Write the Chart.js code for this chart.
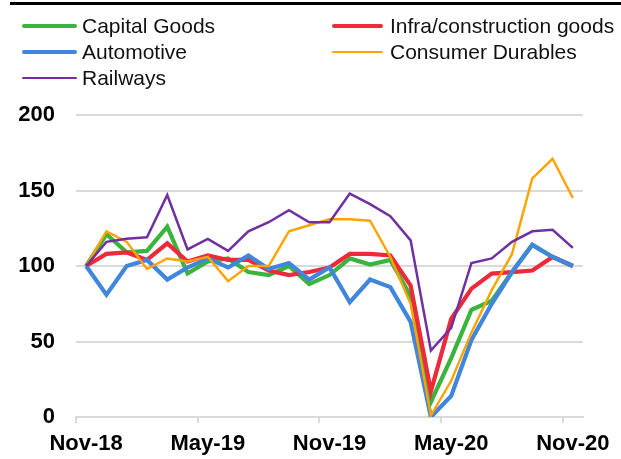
<!DOCTYPE html>
<html>
<head>
<meta charset="utf-8">
<script src="https://cdn.jsdelivr.net/npm/chart.js@4.4.1/dist/chart.umd.min.js"></script>
<style>
  html, body { margin: 0; padding: 0; background: #fff; }
  #wrap { position: relative; width: 621px; height: 459px; overflow: hidden; }
  #topline { position: absolute; left: 10px; top: 2px; width: 611px; height: 3px; background: #000; }
  canvas { position: absolute; left: 0; top: 0; }
  .leg { position: absolute; font-family: "Liberation Sans", Arial, sans-serif; font-size: 21px; color: #111; line-height: 26px; white-space: nowrap; }
  .leg .sw { position: absolute; top: 50%; border-radius: 2px; }
</style>
</head>
<body>
<div id="wrap">
  <canvas id="c" width="621" height="459"></canvas>
  <div id="topline"></div>
  <div id="legend"></div>
</div>
<script>
// ---- data ----
const categories = ["Nov-18","Dec-18","Jan-19","Feb-19","Mar-19","Apr-19","May-19","Jun-19","Jul-19","Aug-19","Sep-19","Oct-19",
  "Nov-19","Dec-19","Jan-20","Feb-20","Mar-20","Apr-20","May-20","Jun-20","Jul-20","Aug-20","Sep-20","Oct-20","Nov-20"];
const tickLabels = ["Nov-18","May-19","Nov-19","May-20","Nov-20"];
const seriesNames = ["Capital Goods","Infra/construction goods","Automotive","Consumer Durables","Railways"];
const capitalGoods = [100,121,109,110,126,95,103,105,96,94,100,88,94,105,101,104,80,10,39,71,77,96,114,106,100];
const infraConstruction = [100,108,109,104,115,103,107,104,104,97,94,96,99,108,108,107,87,17,65,85,95,96,97,106,100];
const automotive = [100,81,100,104,91,99,105,99,107,98,102,91,99,76,91,86,63,0,14,51,75,96,114,106,100];
const consumerDurables = [100,123,116,98,105,103,106,90,100,100,123,127,131,131,130,106,75,1,24,56,84,108,158,171,145];
const railways = [100,116,118,119,147,111,118,110,123,129,137,129,129,148,141,133,117,44,59,102,105,116,123,124,112];
const yTicks = [0,50,100,150,200];

const seriesValues = [capitalGoods, infraConstruction, automotive, consumerDurables, railways];
const colors = ["#3AB43C","#EE2A3A","#3F86DC","#FFA300","#7030A0"];
const widths = [4.2,4.2,4.2,2.4,2.5];

// ---- legend (HTML text) ----
const legPos = [[22,13],[332,13],[22,39],[332,39],[22,65]];
const legendEl = document.getElementById('legend');
seriesNames.forEach((name, i) => {
  const d = document.createElement('div');
  d.className = 'leg';
  const sx = legPos[i][0], sy = legPos[i][1];
  const swW = i % 2 === 0 ? 55 : 51;
  d.style.left = sx + 'px';
  d.style.top = sy + 'px';
  d.style.paddingLeft = (i % 2 === 0 ? 60 : 58) + 'px';
  const sw = document.createElement('span');
  sw.className = 'sw';
  sw.style.left = '0px';
  sw.style.width = swW + 'px';
  sw.style.height = widths[i] + 'px';
  sw.style.marginTop = (-widths[i] / 2) + 'px';
  sw.style.background = colors[i];
  d.appendChild(sw);
  d.appendChild(document.createTextNode(name));
  legendEl.appendChild(d);
});

// ---- chart ----
const datasets = seriesNames.map((name, i) => ({
  label: name,
  data: seriesValues[i],
  borderColor: colors[i],
  backgroundColor: colors[i],
  borderWidth: widths[i],
  pointRadius: 0,
  tension: 0,
  fill: false,
  order: seriesNames.length - 1 - i,
  borderJoinStyle: 'miter',
  borderCapStyle: 'butt'
}));

new Chart(document.getElementById('c'), {
  type: 'line',
  data: { labels: categories, datasets },
  options: {
    responsive: false,
    animation: false,
    events: [],
    layout: { padding: { top: 115, right: 38, bottom: 0, left: 0 } },
    plugins: { legend: { display: false }, tooltip: { enabled: false } },
    scales: {
      x: {
        type: 'category',
        offset: true,
        afterFit: s => { s.height = 42; },
        border: { display: true, color: '#d9d9d9', width: 2 },
        grid: {
          offset: true,
          drawOnChartArea: false,
          drawTicks: true,
          tickLength: 6,
          lineWidth: 2,
          color: ctx => (ctx.index % 6 === 0 && ctx.index < categories.length) ? '#d9d9d9' : 'rgba(0,0,0,0)'
        },
        ticks: {
          autoSkip: false,
          maxRotation: 0,
          minRotation: 0,
          padding: 8,
          color: '#000',
          font: { family: '"Liberation Sans", Arial, sans-serif', size: 22, weight: 'bold' },
          callback: function(v, i) {
            const lab = categories[i];
            return tickLabels.includes(lab) ? lab : '';
          }
        }
      },
      y: {
        min: 0,
        max: 200,
        afterFit: s => { s.width = 76; },
        afterBuildTicks: s => { s.ticks = yTicks.map(v => ({ value: v })); },
        border: { display: false },
        grid: {
          drawTicks: false,
          lineWidth: 2,
          color: '#d9d9d9'
        },
        ticks: {
          padding: 21,
          color: '#000',
          font: { family: '"Liberation Sans", Arial, sans-serif', size: 22, weight: 'bold' }
        }
      }
    }
  }
});
</script>
</body>
</html>
